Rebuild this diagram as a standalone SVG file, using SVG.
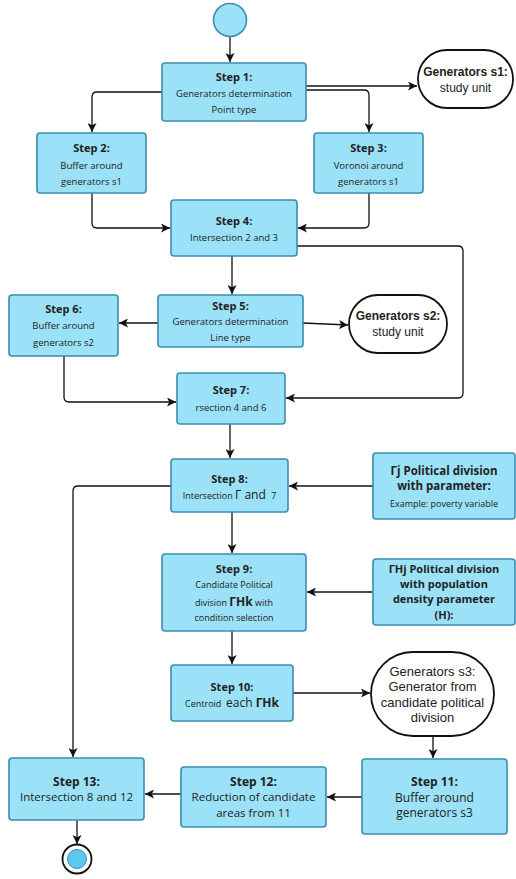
<svg xmlns="http://www.w3.org/2000/svg" width="516" height="879" viewBox="0 0 516 879">
<style>
.box{fill:#9be1f8;stroke:#3b8db0;stroke-width:1.6}
.oval{fill:#fff;stroke:#111;stroke-width:1.8}
.t{font-family:"Open Sans","DejaVu Sans",sans-serif;fill:#222;text-anchor:middle}
.h{font-size:11px;font-weight:bold}
.n{font-size:9.5px}
.a{font-family:"Liberation Sans",Arial,sans-serif;fill:#222;text-anchor:middle}
.ln{fill:none;stroke:#111;stroke-width:1.3;marker-end:url(#arr)}
</style>
<defs>
<marker id="arr" viewBox="0 0 10 10" refX="10" refY="5" markerWidth="9" markerHeight="9" markerUnits="userSpaceOnUse" orient="auto">
<path d="M0,0 L10,5 L0,10 L2.5,5 z" fill="#111"/>
</marker>
</defs>
<g id="connectors">
<path class="ln" d="M230,37 V62"/>
<path class="ln" d="M306,86 H417"/>
<path class="ln" d="M306,90 H364 Q369,90 369,95 V132"/>
<path class="ln" d="M162,92 H97 Q92,92 92,97 V132"/>
<path class="ln" d="M92,193 V223 Q92,228 97,228 H170"/>
<path class="ln" d="M369,193 V223 Q369,228 364,228 H298"/>
<path class="ln" d="M297,246 H458 Q463,246 463,251 V393 Q463,398 458,398 H286"/>
<path class="ln" d="M232,256 V294"/>
<path class="ln" d="M158,323 H119"/>
<path class="ln" d="M303,323 L348,325"/>
<path class="ln" d="M64,356 V397 Q64,402 69,402 H176"/>
<path class="ln" d="M230,424 V458"/>
<path class="ln" d="M373,486 H289"/>
<path class="ln" d="M171,486 H78 Q73,486 73,491 V757"/>
<path class="ln" d="M232,512 V553"/>
<path class="ln" d="M373,592 H307"/>
<path class="ln" d="M232,631 V664"/>
<path class="ln" d="M293,693 H370"/>
<path class="ln" d="M433,736 V758"/>
<path class="ln" d="M362,797 H327"/>
<path class="ln" d="M181,794 H145"/>
<path class="ln" d="M77,820 V844"/>
</g>
<g id="start"><circle cx="230" cy="20" r="16.5" fill="#9be1f8" stroke="#3b8db0" stroke-width="1.6"/></g>
<g id="step1"><rect class="box" x="162" y="63" width="144" height="58" rx="3"/>
<text class="t h" x="234" y="81">Step 1:</text>
<text class="t n" x="234" y="96.5">Generators determination</text>
<text class="t n" x="234" y="112.5">Point type</text></g>
<g id="gens1"><rect class="oval" x="418" y="50" width="95" height="58" rx="29"/>
<text class="a" x="465.5" y="76" font-size="12" font-weight="bold">Generators s1:</text>
<text class="a" x="465.5" y="92" font-size="12">study unit</text></g>
<g id="step2"><rect class="box" x="37" y="133" width="109" height="60" rx="3"/>
<text class="t h" x="91.5" y="152">Step 2:</text>
<text class="t n" x="91.5" y="168.5">Buffer around</text>
<text class="t n" x="91.5" y="184.5">generators s1</text></g>
<g id="step3"><rect class="box" x="314" y="133" width="109" height="60" rx="3"/>
<text class="t h" x="368.5" y="152">Step 3:</text>
<text class="t n" x="368.5" y="168.5">Voronoi around</text>
<text class="t n" x="368.5" y="184.5">generators s1</text></g>
<g id="step4"><rect class="box" x="171" y="200" width="126" height="56" rx="3"/>
<text class="t h" x="234" y="225">Step 4:</text>
<text class="t n" x="234" y="240.5">Intersection 2 and 3</text></g>
<g id="step5"><rect class="box" x="158" y="295" width="145" height="52" rx="3"/>
<text class="t h" x="230.5" y="310">Step 5:</text>
<text class="t n" x="230.5" y="324.5">Generators determination</text>
<text class="t n" x="230.5" y="340.5">Line type</text></g>
<g id="step6"><rect class="box" x="9" y="295" width="109" height="61" rx="3"/>
<text class="t h" x="63.5" y="313">Step 6:</text>
<text class="t n" x="63.5" y="328.5">Buffer around</text>
<text class="t n" x="63.5" y="345.5">generators s2</text></g>
<g id="gens2"><rect class="oval" x="349" y="295" width="98" height="58" rx="29"/>
<text class="a" x="398" y="320" font-size="12" font-weight="bold">Generators s2:</text>
<text class="a" x="398" y="336" font-size="12">study unit</text></g>
<g id="step7"><rect class="box" x="177" y="373" width="108" height="51" rx="3"/>
<text class="t h" x="231" y="394">Step 7:</text>
<text class="t n" x="231" y="410.5">rsection 4 and 6</text></g>
<g id="step8"><rect class="box" x="171" y="459" width="117" height="53" rx="3"/>
<text class="t h" x="229.5" y="483">Step 8:</text>
<text class="t" x="229.5" y="499"><tspan font-size="9">Intersection </tspan><tspan font-size="12">Γ and&#160;</tspan><tspan font-size="9">&#160;7</tspan></text></g>
<g id="gammaj"><rect class="box" x="373" y="453" width="142" height="66" rx="3"/>
<text class="t" x="444" y="474.5" font-size="11.5" font-weight="bold">Γj Political division</text>
<text class="t" x="444" y="490" font-size="11.5" font-weight="bold">with parameter:</text>
<text class="t" x="444" y="507" font-size="9">Example: poverty variable</text></g>
<g id="step9"><rect class="box" x="162" y="554" width="144" height="77" rx="3"/>
<text class="t h" x="234" y="573">Step 9:</text>
<text class="t" x="234" y="588" font-size="9">Candidate Political</text>
<text class="t" x="234" y="605.5"><tspan font-size="9">division </tspan><tspan font-size="12" font-weight="bold">ΓHk</tspan><tspan font-size="9"> with</tspan></text>
<text class="t" x="234" y="620.5" font-size="9">condition selection</text></g>
<g id="gammahj"><rect class="box" x="373" y="559" width="142" height="66" rx="3"/>
<text class="t" x="444" y="572.5" font-size="11" font-weight="bold">ΓHj Political division</text>
<text class="t" x="444" y="587.5" font-size="11" font-weight="bold">with population</text>
<text class="t" x="444" y="603" font-size="11" font-weight="bold">density parameter</text>
<text class="t" x="444" y="618.5" font-size="11" font-weight="bold">(H):</text></g>
<g id="step10"><rect class="box" x="171" y="665" width="122" height="56" rx="3"/>
<text class="t h" x="232" y="691">Step 10:</text>
<text class="t" x="232" y="707"><tspan font-size="9">Centroid&#160;&#160;</tspan><tspan font-size="12">each </tspan><tspan font-size="12" font-weight="bold">ΓHk</tspan></text></g>
<g id="gens3"><rect class="oval" x="371" y="652" width="123" height="84" rx="42"/>
<text class="a" x="432.5" y="675.5" font-size="13">Generators s3:</text>
<text class="a" x="432.5" y="690.5" font-size="13">Generator from</text>
<text class="a" x="432.5" y="706.5" font-size="13">candidate political</text>
<text class="a" x="432.5" y="721.5" font-size="13">division</text></g>
<g id="step11"><rect class="box" x="362" y="759" width="145" height="75" rx="3"/>
<text class="t" x="434.5" y="786" font-size="12" font-weight="bold">Step 11:</text>
<text class="t" x="434.5" y="801.5" font-size="12">Buffer around</text>
<text class="t" x="434.5" y="817" font-size="12">generators s3</text></g>
<g id="step12"><rect class="box" x="181" y="767" width="145" height="60" rx="3"/>
<text class="t" x="253.5" y="786" font-size="12" font-weight="bold">Step 12:</text>
<text class="t" x="253.5" y="801" font-size="11.5">Reduction of candidate</text>
<text class="t" x="253.5" y="817" font-size="11.5">areas from 11</text></g>
<g id="step13"><rect class="box" x="9" y="758" width="135" height="62" rx="3"/>
<text class="t" x="76.5" y="786" font-size="12" font-weight="bold">Step 13:</text>
<text class="t" x="76.5" y="801" font-size="11.5">Intersection 8 and 12</text></g>
<g id="end"><circle cx="77" cy="859" r="14.5" fill="#fff" stroke="#111" stroke-width="1.8"/>
<circle cx="77" cy="859" r="9.5" fill="#5bc8f0" stroke="#3b8db0" stroke-width="1"/></g>
</svg>
